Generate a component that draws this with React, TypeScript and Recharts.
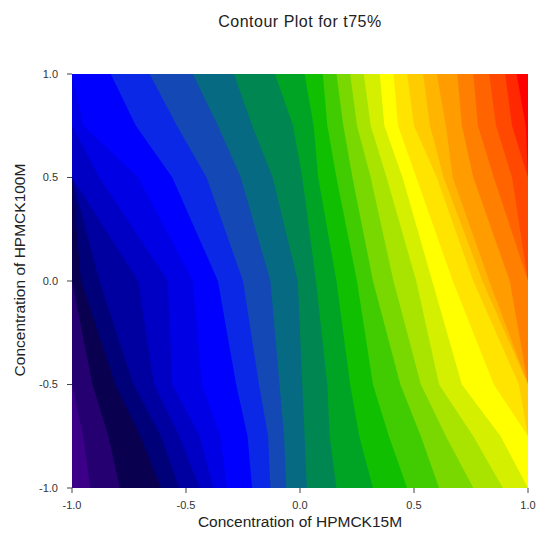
import React from 'react';
import { ComposedChart, Area, XAxis, YAxis, CartesianGrid, Label } from 'recharts';

// y positions (Concentration of HPMCK100M) where the contour boundaries were read
const yLevels = [1, 0.75, 0.5, 0, -0.5, -0.75, -1];

// tick values
const xTicks = [-1, -0.5, 0, 0.5, 1];
const yTicks = [-1, -0.5, 0, 0.5, 1];

// band colours, lowest level (purple) to highest (red)
const bandColors = [
  '#3c0088', '#240070', '#0a0050', '#000078', '#0000a0', '#0000c4', '#0000e4',
  '#0000ff', '#0a28e6', '#1448b4', '#056a82', '#008650', '#00a424', '#10c000',
  '#40cc00', '#78d800', '#a8e400', '#d4f000', '#ffff00', '#ffe400', '#ffcc00',
  '#ffb400', '#ff9c00', '#ff8000', '#ff6400', '#ff4800', '#ff2800', '#ff0000',
];

// x position (Concentration of HPMCK15M) of each contour boundary b1..b27, one array per y level
const rowP100 = [-1, -1, -1, -1, -1, -1, -1, -0.83, -0.66, -0.47, -0.29, -0.11, 0.02, 0.1, 0.16, 0.22, 0.28, 0.35, 0.41, 0.47, 0.54, 0.6, 0.69, 0.76, 0.83, 0.9, 0.95];
const rowP075 = [-1, -1, -1, -1, -1, -1, -0.95, -0.72, -0.54, -0.36, -0.21, -0.03, 0.06, 0.12, 0.19, 0.25, 0.31, 0.37, 0.43, 0.5, 0.57, 0.64, 0.71, 0.78, 0.86, 0.93, 0.99];
const rowP050 = [-1, -1, -1, -1, -1, -0.88, -0.71, -0.56, -0.41, -0.26, -0.12, 0.01, 0.08, 0.16, 0.23, 0.31, 0.38, 0.45, 0.51, 0.6, 0.63, 0.67, 0.76, 0.85, 0.93, 1, 1];
const rowP000 = [-1, -1, -0.96, -0.88, -0.71, -0.58, -0.47, -0.36, -0.25, -0.13, -0.01, 0.07, 0.16, 0.25, 0.32, 0.41, 0.51, 0.58, 0.67, 0.76, 0.8, 0.83, 0.92, 1, 1, 1, 1];
const rowN050 = [-1, -0.91, -0.81, -0.73, -0.64, -0.56, -0.43, -0.28, -0.18, -0.09, 0.01, 0.12, 0.22, 0.32, 0.44, 0.53, 0.61, 0.71, 0.85, 0.96, 1, 1, 1, 1, 1, 1, 1];
const rowN075 = [-0.95, -0.84, -0.7, -0.61, -0.53, -0.44, -0.35, -0.23, -0.14, -0.07, 0.02, 0.13, 0.26, 0.39, 0.53, 0.64, 0.76, 0.88, 1, 1, 1, 1, 1, 1, 1, 1, 1];
const rowN100 = [-0.92, -0.79, -0.61, -0.53, -0.44, -0.38, -0.32, -0.21, -0.13, -0.06, 0.03, 0.16, 0.32, 0.47, 0.61, 0.76, 0.89, 1, 1, 1, 1, 1, 1, 1, 1, 1, 1];

const rows = [rowP100, rowP075, rowP050, rowP000, rowN050, rowN075, rowN100];

const data = yLevels.map((y, i) => {
  const o: Record<string, number> = { y };
  rows[i].forEach((v, k) => {
    o[`b${k + 1}`] = v;
  });
  return o;
});

const boundaryKeys = rowP100.map((_, k) => k + 1).reverse();

const FONT = 'Arial, "Liberation Sans", Helvetica, sans-serif';

const XTitle = (props: any) => {
  const vb = props.viewBox || { x: 72, y: 488, width: 456, height: 52 };
  return (
    <text
      x={vb.x + vb.width / 2}
      y={vb.y + 33}
      textAnchor="middle"
      dominantBaseline="central"
      fontSize={15.5}
      fill="#222"
      fontFamily={FONT}
    >
      Concentration of HPMCK15M
    </text>
  );
};

const YTitle = (props: any) => {
  const vb = props.viewBox || { x: 0, y: 74, width: 72, height: 414 };
  const cx = vb.x + 19;
  const cy = vb.y + vb.height / 2 - 11;
  return (
    <text
      x={cx}
      y={cy}
      transform={`rotate(-90 ${cx} ${cy})`}
      textAnchor="middle"
      dominantBaseline="central"
      fontSize={15.5}
      fill="#222"
      fontFamily={FONT}
    >
      Concentration of HPMCK100M
    </text>
  );
};

export default function App() {
  const tickStyle = { fontSize: 11, fill: '#333', fontFamily: FONT };
  return (
    <div style={{ position: 'relative', width: 539, height: 540, background: '#fff', overflow: 'hidden' }}>
      <style>{'body{margin:0;overflow:hidden;}'}</style>
      <div
        style={{
          position: 'absolute',
          top: 12,
          left: 100,
          width: 400,
          textAlign: 'center',
          fontFamily: FONT,
          fontSize: 16,
          lineHeight: '20px',
          letterSpacing: 0.5,
          color: '#222',
        }}
      >
        Contour Plot for t75%
      </div>
      <ComposedChart
        layout="vertical"
        width={539}
        height={540}
        data={data}
        margin={{ top: 74, right: 11, bottom: 0, left: 0 }}
      >
        <CartesianGrid horizontal={false} vertical={false} fill={bandColors[27]} fillOpacity={1} />
        <XAxis
          type="number"
          domain={[-1, 1]}
          ticks={xTicks}
          allowDataOverflow
          height={52}
          axisLine={false}
          tickLine={{ stroke: '#444' }}
          tickSize={5}
          tickMargin={8}
          tick={tickStyle}
          tickFormatter={(v: number) => v.toFixed(1)}
        >
          <Label content={XTitle} />
        </XAxis>
        <YAxis
          type="number"
          dataKey="y"
          domain={[-1, 1]}
          ticks={yTicks}
          reversed
          allowDataOverflow
          width={72}
          axisLine={false}
          tickLine={{ stroke: '#444' }}
          tickSize={5}
          tickMargin={9}
          tick={tickStyle}
          tickFormatter={(v: number) => v.toFixed(1)}
        >
          <Label content={YTitle} />
        </YAxis>
        {boundaryKeys.map((k) => (
          <Area
            key={k}
            type="linear"
            dataKey={`b${k}`}
            baseValue="dataMin"
            fill={bandColors[k - 1]}
            fillOpacity={1}
            stroke="none"
            dot={false}
            activeDot={false}
            isAnimationActive={false}
          />
        ))}
      </ComposedChart>
    </div>
  );
}
